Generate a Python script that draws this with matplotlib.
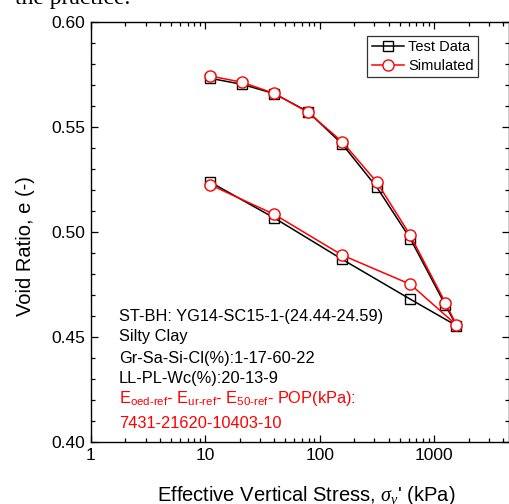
import matplotlib
matplotlib.use('Agg')
import matplotlib.pyplot as plt
from matplotlib.ticker import LogLocator, MultipleLocator, FixedLocator

plt.rcParams['font.family'] = ['Liberation Sans', 'DejaVu Sans']
plt.rcParams['mathtext.fontset'] = 'custom'
plt.rcParams['mathtext.rm'] = 'Liberation Sans'
plt.rcParams['mathtext.it'] = 'Liberation Serif:italic'

# loading then unloading path (kPa)
stress = [11, 21, 40, 79, 157, 316, 620, 1255, 1570, 620, 157, 40, 11]
e_test = [0.5732, 0.5703, 0.5659, 0.5573, 0.5419, 0.5213, 0.4968, 0.4652, 0.4554,
          0.4680, 0.4870, 0.5067, 0.5238]
e_sim = [0.5743, 0.5713, 0.5660, 0.5570, 0.5430, 0.5237, 0.4984, 0.4663, 0.4557,
         0.4751, 0.4890, 0.5084, 0.5225]

info_lines = ['ST-BH: YG14-SC15-1-(24.44-24.59)',
              'Silty Clay',
              'Gr-Sa-Si-Cl(%):1-17-60-22',
              'LL-PL-Wc(%):20-13-9',
              r'E$_{\mathrm{oed\text{-}ref}}$- E$_{\mathrm{ur\text{-}ref}}$- E$_{\mathrm{50\text{-}ref}}$- POP(kPa):',
              '7431-21620-10403-10']
info_colors = ['black', 'black', 'black', 'black', 'red', 'red']
info_y_px = [317, 337, 358, 378, 398, 423]


def plot_chart():
    fig = plt.figure(figsize=(5.1, 5.04), dpi=100)
    ax = fig.add_axes([91 / 510, 1 - 442 / 504, 418 / 510, 420 / 504])

    ax.plot(stress, e_test, '-', color='black', lw=1.1, marker='s', ms=7,
            mfc='none', mec='black', mew=1.0, label='Test Data')
    ax.plot(stress, e_sim, '-', color='red', lw=1.1, marker='o', ms=8,
            mfc='white', mec='red', mew=1.0, label='Simulated')

    ax.set_xscale('log')
    ax.set_xlim(1, 4520)
    ax.set_ylim(0.40, 0.60)
    ax.xaxis.set_major_locator(FixedLocator([1, 10, 100, 1000]))
    ax.set_xticklabels(['1', '10', '100', '1000'])
    ax.xaxis.set_minor_locator(LogLocator(base=10, subs=range(2, 10), numticks=20))
    ax.yaxis.set_major_locator(MultipleLocator(0.05))
    ax.yaxis.set_minor_locator(MultipleLocator(0.01))
    ax.set_yticks([0.40, 0.45, 0.50, 0.55, 0.60])
    ax.set_yticklabels(['0.40', '0.45', '0.50', '0.55', '0.60'])

    ax.tick_params(which='both', direction='in', top=True, right=True,
                   labelsize=12.5, width=0.9)
    ax.tick_params(which='major', length=5, pad=4)
    ax.tick_params(which='minor', length=3)
    for s in ax.spines.values():
        s.set_linewidth(1.0)

    ax.set_xlabel(r"Effective Vertical Stress, $\sigma_v$' (kPa)", fontsize=14.5)
    ax.xaxis.set_label_coords(0.515, -0.1)
    ax.set_ylabel('Void Ratio, e (-)', fontsize=14.5)
    ax.yaxis.set_label_coords(-0.134, 0.467)

    leg = ax.legend(loc='upper right', bbox_to_anchor=((478 - 91) / 418, (442 - 36) / 420),
                    borderaxespad=0, fontsize=10.5, frameon=True, fancybox=False,
                    handlelength=2.2, handletextpad=0.3, borderpad=0.3,
                    labelspacing=0.3)
    leg.get_frame().set_edgecolor('black')
    leg.get_frame().set_linewidth(0.9)

    for txt, col, ypx in zip(info_lines, info_colors, info_y_px):
        ax.text((119 - 91) / 418, (442 - ypx) / 420, txt, color=col,
                fontsize=11.8, ha='left', va='center', transform=ax.transAxes)

    # fragment of page text above the chart
    fig.text(130 / 510, 1 - 4 / 504, 'the practice.', family='Liberation Serif',
             fontsize=17, ha='right', va='baseline')

    fig.savefig('out.png', dpi=100)


if __name__ == '__main__':
    plot_chart()
